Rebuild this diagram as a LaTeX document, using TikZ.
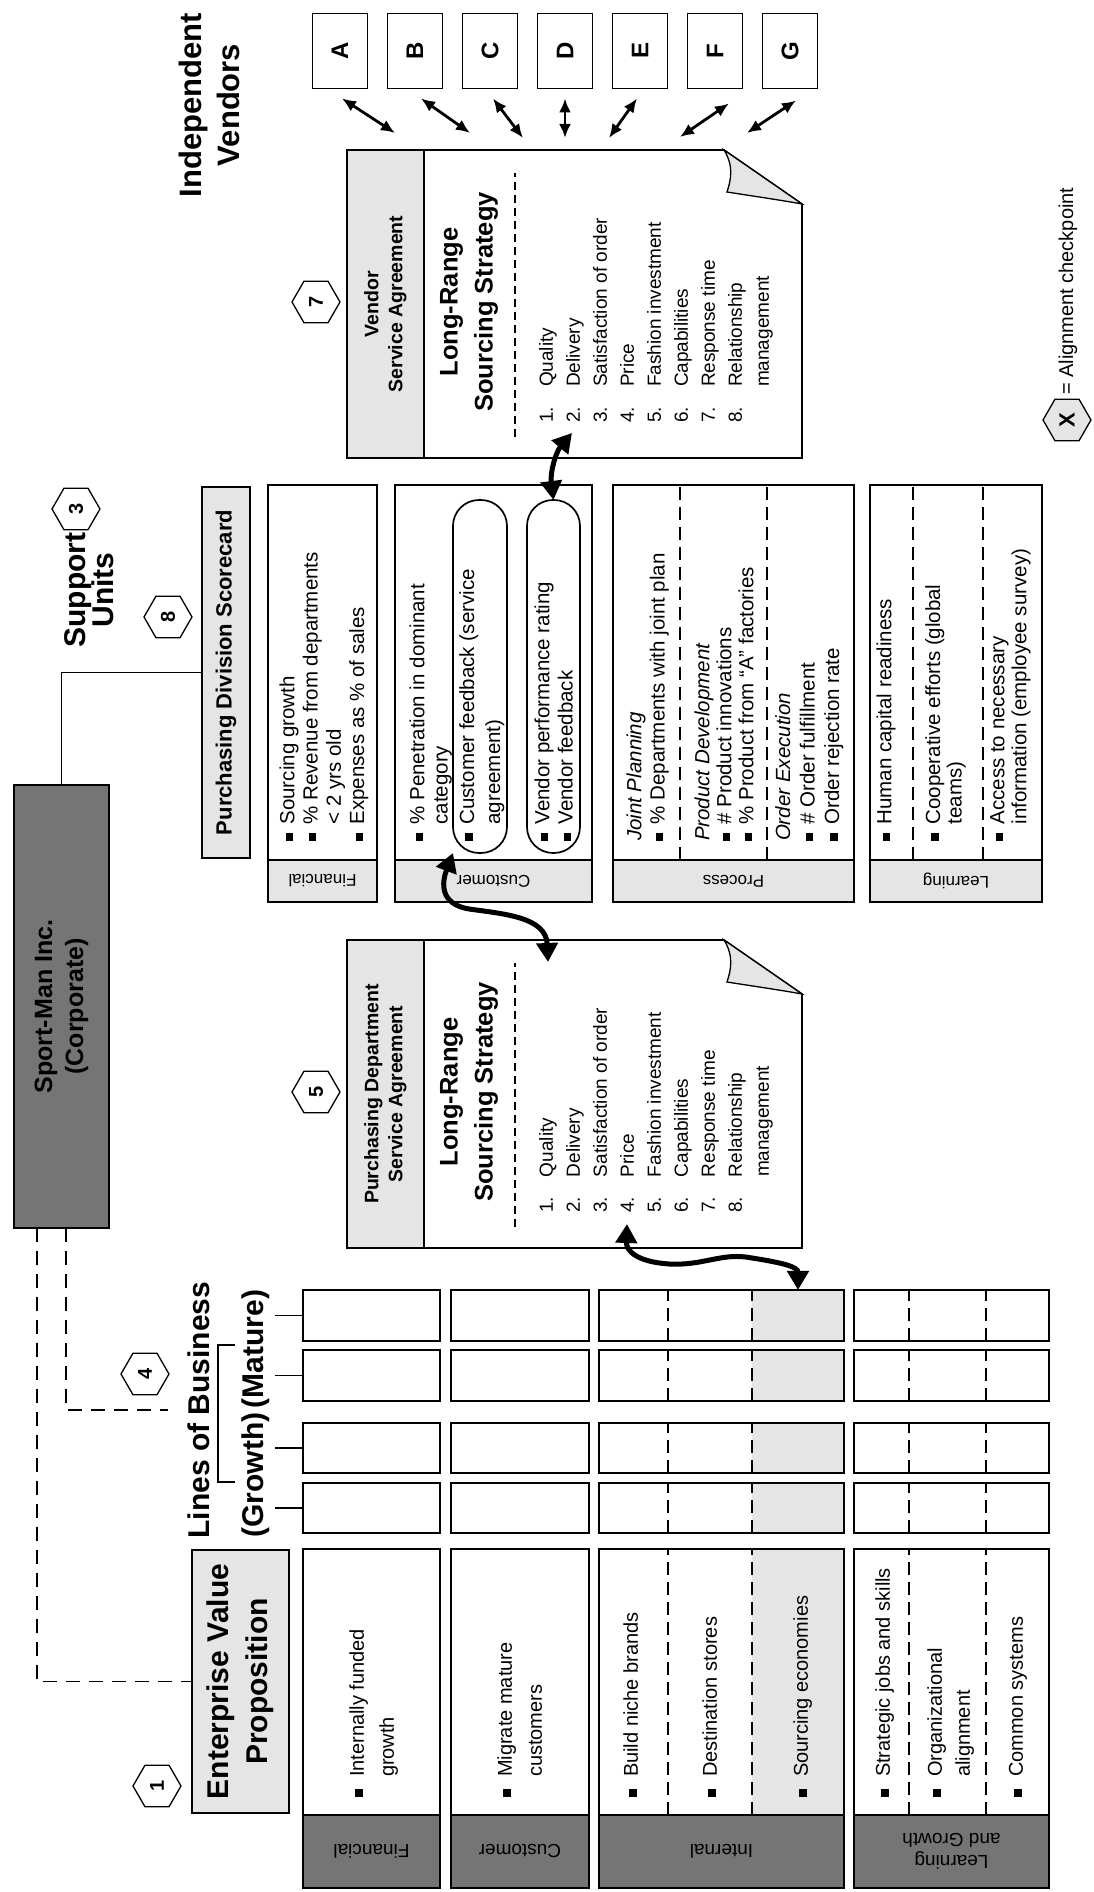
\documentclass[tikz,border=0pt]{standalone}
\usepackage{fontspec}
\setmainfont{Liberation Sans}
\usetikzlibrary{arrows.meta,shapes.geometric,calc}

\definecolor{lightdot}{gray}{0.90}
\definecolor{darkdot}{gray}{0.46}
\newcommand\fs[2]{\fontsize{#1pt}{#2pt}\selectfont}
\newcommand\bul{\raisebox{1.2pt}{\rule{7.5pt}{7.5pt}}}
\newcommand\hd[1]{\multicolumn{2}{@{}l@{}}{\itshape #1}}

% service-agreement sheet: #1 name prefix, #2 left edge, #3 header, #4 checkpoint number
\newcommand\sadoc[4]{%
\begin{scope}[shift={(#2,292)}]
  \draw[fill=white, line width=1.6pt] (0,0) -- (0,455) -- (308,455) -- (308,78) -- (254,0) -- cycle;
  \node[draw, line width=1.6pt, fill=lightdot, anchor=south west, minimum width=308pt,
        minimum height=77pt, align=center, font=\fs{19.5}{24}\bfseries] (#1hdr) at (0,378) {#3};
  \node[hexa] (#1hex) at (156,486) {#4};
  \node[align=center, font=\fs{25.5}{35}\bfseries] (#1ttl) at (156,333) {Long-Range\\Sourcing Strategy};
  \draw[dline] (21,287) -- (285,287);
  \node[anchor=north west, font=\fs{19}{27}] (#1lst) at (35,268) {%
    \begin{tabular}{@{}l@{}l@{}}
    \makebox[36pt][l]{1.} & Quality\\
    \makebox[36pt][l]{2.} & Delivery\\
    \makebox[36pt][l]{3.} & Satisfaction of order\\
    \makebox[36pt][l]{4.} & Price\\
    \makebox[36pt][l]{5.} & Fashion investment\\
    \makebox[36pt][l]{6.} & Capabilities\\
    \makebox[36pt][l]{7.} & Response time\\
    \makebox[36pt][l]{8.} & Relationship\\
    & management
    \end{tabular}};
  \filldraw[fill=lightdot, line width=1.3pt] (308,78) .. controls (292,68) and (278,71) .. (266,75)
     .. controls (262,50) and (258,22) .. (254,0) -- cycle;
  \coordinate (#1tipa) at (25,230);
  \coordinate (#1tipb) at (24,175);
  \coordinate (#1tipc) at (286,254);
\end{scope}}

\begin{document}
\begin{tikzpicture}[x=1pt, y=1pt,
  every node/.style={inner sep=0pt, outer sep=0pt},
  hexa/.style={draw, line width=1.3pt, fill=white, regular polygon, regular polygon sides=6,
               shape border rotate=90, minimum size=48pt, font=\fs{20}{24}\bfseries},
  bx/.style={draw, line width=1.6pt},
  vbox/.style={bx, minimum width=75pt, minimum height=55pt, font=\fs{24}{28}\bfseries},
  varr/.style={line width=2.8pt, {Latex[length=14pt,width=12pt]}-{Latex[length=14pt,width=12pt]}},
  bigarr/.style={line width=5pt, {Triangle[length=19pt,width=21pt]}-{Triangle[length=19pt,width=21pt]}},
  dline/.style={line width=1.1pt, dash pattern=on 8pt off 5pt},
  ddiv/.style={line width=1.8pt, dash pattern=on 13pt off 7pt},
  dconn/.style={line width=1.8pt, dash pattern=on 14pt off 9pt},
  conn/.style={line width=1.6pt},
  pill/.style={draw, line width=1.7pt, rounded corners=26pt},
  head/.style={font=\fs{30}{36}\bfseries},
  body/.style={font=\fs{20.5}{23.3}},
  strip/.style={draw, line width=1.6pt, fill=lightdot, rotate=90, font=\fs{17}{20}},
  dstrip/.style={draw, line width=1.6pt, fill=darkdot, rotate=90, align=center, font=\fs{19}{22}},
]
\begin{scope}[rotate=90, transform shape]
\useasboundingbox (0,0) rectangle (1892,1094);
\fill[white] (0,0) rectangle (1892,1094);

% ---------- corporate level ----------
\node[bx, fill=darkdot, minimum width=443pt, minimum height=95pt, align=center,
      font=\fs{25}{31}\bfseries] (sm) at (885.5,1032.5) {Sport-Man Inc.\\(Corporate)};

\node[align=center, font=\fs{30}{28}\bfseries] (sup) at (1302,1005) {Support\\Units};
\node[hexa] (h3) at (1383,1018) {3};
\node[hexa] (h8) at (1275,926) {8};
\node[bx, fill=lightdot, minimum width=371pt, minimum height=48pt,
      font=\fs{22}{26}\bfseries] (sctitle) at (1219.5,868) {Purchasing Division Scorecard};
\draw[conn] (sm.east) -| (sctitle.north);

\node[head, anchor=base] (lob) at (482,884) {Lines of Business};
\node[head, anchor=base] (grow) at (417,830) {(Growth)};
\node[head, anchor=base] (mat) at (543,830) {(Mature)};
\draw[conn] ($(grow.north)+(-7,7)$) |- ($(mat.north)+(4,24)$) -- ($(mat.north)+(4,7)$);
\node[hexa] (h4) at (518,949) {4};

\node[hexa] (h1) at (106,937) {1};
\node[bx, fill=lightdot, minimum width=263pt, minimum height=97pt, align=center,
      font=\fs{30}{39}\bfseries] (evp) at (210.5,853.5) {Enterprise Value\\Proposition};

\draw[dconn] ([yshift=24.5pt]sm.west) -| (evp.north);
\draw[dconn] ([yshift=-4.5pt]sm.west) -| ([yshift=20pt]lob.north);

% ---------- vendors ----------
\node[align=center, font=\fs{31}{38}\bfseries] (indv) at (1787,885) {Independent\\Vendors};
\foreach \nm/\yy in {A/754,B/679,C/604,D/529,E/454,F/379,G/304}
  \node[vbox] (v\nm) at (1841,\yy) {\nm};

\coordinate (qA) at (1759,699);
\coordinate (qB) at (1759,624);
\coordinate (qC) at (1754,571);
\coordinate (qD) at (1754,529);
\coordinate (qE) at (1754,485);
\coordinate (qF) at (1755,414);
\coordinate (qG) at (1759,347);

% ---------- legend ----------
\node[hexa, fill=lightdot, font=\fs{22}{24}\bfseries] (lgx) at (1472,27) {X};
\node[anchor=west, font=\fs{20}{24}] (lgt) at (1497,26) {= Alignment checkpoint};

% ---------- service agreements ----------
\sadoc{d7}{1434}{Vendor\\Service Agreement}{7}
\sadoc{d5}{644}{Purchasing Department\\Service Agreement}{5}

\draw[varr] ([shift={(-10,-2)}]vA.west) -- (qA);
\draw[varr] ([shift={(-10,-6)}]vB.west) -- (qB);
\draw[varr] ([shift={(-10,-3)}]vC.west) -- (qC);
\draw[varr] ([shift={(-10,0)}]vD.west) -- (qD);
\draw[varr] ([shift={(-10,3)}]vE.west) -- (qE);
\draw[varr] ([shift={(-15,-14)}]vF.west) -- (qF);
\draw[varr] ([shift={(-12,-6)}]vG.west) -- (qG);

% ---------- purchasing division scorecard ----------
\node[bx, minimum width=417pt, minimum height=109pt, anchor=south west] (scfin) at (990,717) {};
\node[strip, minimum width=109pt, minimum height=42pt] (scfinl) at (1011,771.5) {Financial};
\node[bx, minimum width=417pt, minimum height=197pt, anchor=south west] (sccus) at (990,502) {};
\node[strip, minimum width=197pt, minimum height=42pt] (sccusl) at (1011,600.5) {Customer};
\node[bx, minimum width=417pt, minimum height=241pt, anchor=south west] (scpro) at (990,240) {};
\node[strip, minimum width=241pt, minimum height=42pt] (scprol) at (1011,360.5) {Process};
\node[bx, minimum width=417pt, minimum height=172pt, anchor=south west] (sclrn) at (990,52) {};
\node[strip, minimum width=172pt, minimum height=42pt] (sclrnl) at (1011,138) {Learning};

\node[body, anchor=north west] (scfint) at (1051,816) {%
  \begin{tabular}{@{}l@{\hspace{9pt}}l@{}}
  \bul & Sourcing growth\\
  \bul & \% Revenue from departments\\
       & {<} 2 yrs old\\
  \bul & Expenses as \% of sales
  \end{tabular}};

\node[body, anchor=north west] (sccust) at (1051,686) {%
  \begin{tabular}{@{}l@{\hspace{9pt}}l@{}}
  \bul & \% Penetration in dominant\\
       & category
  \end{tabular}};
\node[pill, minimum width=353pt, minimum height=54pt] (cbox1) at (1215.5,614) {};
\node[anchor=north west, font=\fs{20.5}{26}] (cbox1t) at (1051,638) {%
  \begin{tabular}{@{}l@{\hspace{9pt}}l@{}}
  \bul & Customer feedback (service\\
       & agreement)
  \end{tabular}};
\node[pill, minimum width=353pt, minimum height=53pt] (cbox2) at (1215.5,540.5) {};
\node[body, anchor=north west] (cbox2t) at (1051,561) {%
  \begin{tabular}{@{}l@{\hspace{9pt}}l@{}}
  \bul & Vendor performance rating\\
  \bul & Vendor feedback
  \end{tabular}};

\node[body, anchor=north west] (scp1) at (1051,469) {%
  \begin{tabular}{@{}l@{\hspace{9pt}}l@{}}
  \hd{Joint Planning}\\
  \bul & \% Departments with joint plan
  \end{tabular}};
\draw[ddiv] (1032,414) -- (1407,414);
\node[anchor=north west, font=\fs{20.5}{22}] (scp2) at (1051,400) {%
  \begin{tabular}{@{}l@{\hspace{9pt}}l@{}}
  \hd{Product Development}\\
  \bul & \# Product innovations\\
  \bul & \% Product from ``A'' factories
  \end{tabular}};
\draw[ddiv] (1032,327) -- (1407,327);
\node[anchor=north west, font=\fs{20.5}{24.5}] (scp3) at (1051,321) {%
  \begin{tabular}{@{}l@{\hspace{9pt}}l@{}}
  \hd{Order Execution}\\
  \bul & \# Order fulfillment\\
  \bul & Order rejection rate
  \end{tabular}};

\node[body, anchor=north west] (scl1) at (1051,219) {%
  \begin{tabular}{@{}l@{\hspace{9pt}}l@{}}
  \bul & Human capital readiness
  \end{tabular}};
\draw[ddiv] (1032,181) -- (1407,181);
\node[anchor=north west, font=\fs{20.5}{21.5}] (scl2) at (1051,169) {%
  \begin{tabular}{@{}l@{\hspace{9pt}}l@{}}
  \bul & Cooperative efforts (global\\
       & teams)
  \end{tabular}};
\draw[ddiv] (1032,111) -- (1407,111);
\node[anchor=north west, font=\fs{20.5}{22}] (scl3) at (1051,105) {%
  \begin{tabular}{@{}l@{\hspace{9pt}}l@{}}
  \bul & Access to necessary\\
       & information (employee survey)
  \end{tabular}};

% ---------- lines of business grid ----------
\foreach \cx/\cw/\cn in {576.5/51/1,516.5/51/2,444/50/3,384/50/4}{
  \node[bx, minimum width=\cw*1pt, minimum height=137pt] (lobf\cn) at (\cx,722.5) {};
  \node[bx, minimum width=\cw*1pt, minimum height=138pt] (lobc\cn) at (\cx,574) {};
  \fill[lightdot] (\cx-\cw/2,250) rectangle (\cx+\cw/2,342);
  \node[bx, minimum width=\cw*1pt, minimum height=245pt] (lobi\cn) at (\cx,372.5) {};
  \draw[ddiv] (\cx-\cw/2,426) -- (\cx+\cw/2,426) (\cx-\cw/2,342) -- (\cx+\cw/2,342);
  \node[bx, minimum width=\cw*1pt, minimum height=195pt] (lobl\cn) at (\cx,142.5) {};
  \draw[ddiv] (\cx-\cw/2,185) -- (\cx+\cw/2,185) (\cx-\cw/2,108) -- (\cx+\cw/2,108);
  \draw[conn] (lobf\cn.north) -- ++(0,28);
}

\node[bx, minimum width=266pt, minimum height=137pt] (evpf) at (210,722.5) {};
\node[bx, minimum width=266pt, minimum height=138pt] (evpc) at (210,574) {};
\fill[lightdot] (77,250) rectangle (343,342);
\node[bx, minimum width=266pt, minimum height=245pt] (evpi) at (210,372.5) {};
\draw[ddiv] (77,426) -- (343,426) (77,342) -- (343,342);
\node[bx, minimum width=266pt, minimum height=195pt] (evpl) at (210,142.5) {};
\draw[ddiv] (77,185) -- (343,185) (77,108) -- (343,108);

\node[dstrip, minimum width=137pt, minimum height=73pt] (labf) at (40.5,722.5) {Financial};
\node[dstrip, minimum width=138pt, minimum height=73pt] (labc) at (40.5,574) {Customer};
\node[dstrip, minimum width=245pt, minimum height=73pt] (labi) at (40.5,372.5) {Internal};
\node[dstrip, minimum width=195pt, minimum height=73pt] (labl) at (40.5,142.5) {Learning\\and Growth};

\node[anchor=north west, font=\fs{20}{30}] (evpft) at (95,751) {%
  \begin{tabular}{@{}l@{\hspace{12.5pt}}l@{}}
  \bul & Internally funded\\ & growth
  \end{tabular}};
\node[anchor=north west, font=\fs{20}{30}] (evpct) at (95,603) {%
  \begin{tabular}{@{}l@{\hspace{12.5pt}}l@{}}
  \bul & Migrate mature\\ & customers
  \end{tabular}};
\node[anchor=north west, font=\fs{20}{28}] (evpi1) at (95,475.6) {%
  \begin{tabular}{@{}l@{\hspace{12.5pt}}l@{}}\bul & Build niche brands\end{tabular}};
\node[anchor=north west, font=\fs{20}{28}] (evpi2) at (95,396.6) {%
  \begin{tabular}{@{}l@{\hspace{12.5pt}}l@{}}\bul & Destination stores\end{tabular}};
\node[anchor=north west, font=\fs{20}{28}] (evpi3) at (95,305.6) {%
  \begin{tabular}{@{}l@{\hspace{12.5pt}}l@{}}\bul & Sourcing economies\end{tabular}};
\node[anchor=north west, font=\fs{20}{28}] (evpl1) at (95,223.6) {%
  \begin{tabular}{@{}l@{\hspace{12.5pt}}l@{}}\bul & Strategic jobs and skills\end{tabular}};
\node[anchor=north west, font=\fs{20}{28}] (evpl2) at (95,171.6) {%
  \begin{tabular}{@{}l@{\hspace{12.5pt}}l@{}}\bul & Organizational\\ & alignment\end{tabular}};
\node[anchor=north west, font=\fs{20}{28}] (evpl3) at (95,90.6) {%
  \begin{tabular}{@{}l@{\hspace{12.5pt}}l@{}}\bul & Common systems\end{tabular}};

% ---------- alignment links between levels ----------
\draw[bigarr] (cbox2.east) .. controls (1420,544) and (1440,538) .. (d7tipa);
\draw[bigarr] (cbox1.north west) .. controls (1010,652) and (988,655) .. (983,625)
   .. controls (978,590) and (975,548) .. (d5tipc);
\draw[bigarr] (d5tipb) .. controls (640,468) and (630,455) .. (628,425)
   .. controls (626,390) and (640,372) .. (634,342)
   .. controls (629,310) and (625,296) .. ($(lobi1.south east)+(0,46)$);

\end{scope}
\end{tikzpicture}
\end{document}
